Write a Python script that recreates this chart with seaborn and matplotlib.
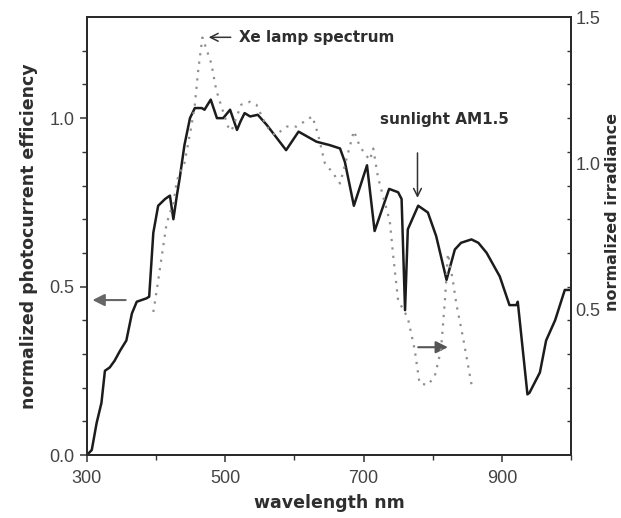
import numpy as np
import pandas as pd
import matplotlib
matplotlib.use("Agg")
import matplotlib.pyplot as plt
import seaborn as sns
from matplotlib.ticker import FixedLocator

# ---- data ----
sun_nm = [300, 307, 314, 321, 326, 333, 340, 348, 357, 365, 372, 386, 390, 396, 403,
          413, 420, 425, 430, 434, 441, 449, 456, 466, 470, 479, 488, 497, 507, 517,
          522, 528, 536, 547, 560, 588, 606, 632, 651, 666, 673, 686, 705, 716, 737,
          750, 755, 760, 764, 779, 793, 805, 820, 832, 841, 856, 866, 878, 897, 911,
          921, 923, 937, 940, 955, 964, 977, 991, 999]
sun_eff = [0.00, 0.015, 0.095, 0.155, 0.25, 0.26, 0.28, 0.31, 0.34, 0.42, 0.455, 0.465,
           0.47, 0.66, 0.74, 0.76, 0.77, 0.70, 0.77, 0.82, 0.92, 1.00, 1.03, 1.03, 1.025,
           1.055, 1.00, 1.00, 1.025, 0.965, 0.99, 1.015, 1.005, 1.01, 0.98, 0.905, 0.96,
           0.93, 0.92, 0.91, 0.87, 0.74, 0.86, 0.665, 0.79, 0.78, 0.76, 0.43, 0.67, 0.74,
           0.72, 0.65, 0.52, 0.61, 0.63, 0.64, 0.63, 0.60, 0.53, 0.445, 0.445, 0.455,
           0.18, 0.185, 0.245, 0.34, 0.40, 0.49, 0.49]

xe_nm = [396, 401, 405, 410, 415, 420, 425, 430, 441, 451, 456, 461, 467, 475, 480,
         487, 495, 504, 509, 523, 536, 545, 560, 572, 589, 603, 626, 634, 644, 656,
         666, 676, 686, 695, 709, 714, 721, 738, 743, 750, 764, 774, 781, 793, 803,
         812, 818, 822, 829, 834, 844, 857]
xe_irr = [0.49, 0.565, 0.63, 0.71, 0.79, 0.83, 0.86, 0.94, 1.00, 1.125, 1.20, 1.32,
          1.43, 1.375, 1.34, 1.25, 1.19, 1.125, 1.11, 1.20, 1.21, 1.20, 1.125, 1.095,
          1.125, 1.125, 1.16, 1.10, 1.00, 0.965, 0.93, 1.02, 1.11, 1.055, 1.01, 1.05,
          0.95, 0.80, 0.68, 0.53, 0.47, 0.36, 0.245, 0.24, 0.27, 0.36, 0.54, 0.69,
          0.60, 0.52, 0.40, 0.23]

x_ticks = [300, 500, 700, 900]
x_tick_labels = ["300", "500", "700", "900"]
left_ticks = [0.0, 0.5, 1.0]
left_tick_labels = ["0.0", "0.5", "1.0"]
right_ticks = [0.5, 1.0, 1.5]
right_tick_labels = ["0.5", "1.0", "1.5"]

sun_df = pd.DataFrame({"wavelength": sun_nm, "efficiency": sun_eff})
xe_df = pd.DataFrame({"wavelength": xe_nm, "irradiance": xe_irr})

sns.set_style("ticks")
plt.rcParams["font.family"] = ["Liberation Sans", "DejaVu Sans"]

fig = plt.figure(figsize=(6.21, 5.18), dpi=100)
ax = fig.add_axes([0.140, 0.1216, 0.7795, 0.8454])
ax2 = ax.twinx()

sns.lineplot(data=sun_df, x="wavelength", y="efficiency", ax=ax, sort=False,
             estimator=None, color="#1c1c1c", linewidth=1.8)
sns.lineplot(data=xe_df, x="wavelength", y="irradiance", ax=ax2, sort=False,
             estimator=None, color="#8f8f8f", linewidth=1.6, linestyle=(0, (1, 2.8)))

ax.set_xlim(300, 1000)
ax.set_ylim(0, 1.3)
ax2.set_ylim(0, 1.5)

tick_color = "#444444"
ax.set_xticks(x_ticks)
ax.set_xticklabels(x_tick_labels)
ax.xaxis.set_minor_locator(FixedLocator([400, 600, 800, 1000]))
ax.set_yticks(left_ticks)
ax.set_yticklabels(left_tick_labels)
ax.yaxis.set_minor_locator(FixedLocator(np.arange(0.1, 1.3, 0.1)))
ax.tick_params(axis="both", which="major", direction="out", length=5, width=1.1,
               labelsize=13, colors="#333333", labelcolor=tick_color, pad=4)
ax.tick_params(axis="both", which="minor", direction="out", length=3.5, width=1.0,
               colors="#333333")
ax.tick_params(axis="x", which="major", pad=6)

ax2.set_yticks(right_ticks)
ax2.set_yticklabels(right_tick_labels)
ax2.yaxis.set_minor_locator(FixedLocator([k * 1.5 / 13 for k in range(1, 13)]))
ax2.tick_params(axis="y", which="major", length=0, labelsize=13,
                labelcolor=tick_color, pad=3)
ax2.tick_params(axis="y", which="minor", direction="in", length=3, width=1.0,
                colors="#333333")

for a in (ax, ax2):
    for s in a.spines.values():
        s.set_visible(True)
        s.set_linewidth(1.3)
        s.set_color("#2a2a2a")

lab_font = dict(family=["DejaVu Sans"], fontweight="bold", fontsize=12.5, color="#2e2e2e")
ax.set_xlabel("wavelength nm", labelpad=5, **lab_font)
ax.set_ylabel("normalized photocurrent efficiency", labelpad=8, **lab_font)
right_font = dict(lab_font, fontsize=11.5)
ax2.set_ylabel("normalized irradiance", rotation=90, va="center", ha="center", **right_font)
ax2.yaxis.set_label_coords(1.086, 0.555)

ann_font = dict(family=["DejaVu Sans"], fontweight="bold", fontsize=11, color="#2e2e2e")
ax.annotate("", xy=(472, 1.24), xytext=(512, 1.24),
            arrowprops=dict(arrowstyle="->", color="#333333", lw=1.1, mutation_scale=14))
ax.text(520, 1.24, "Xe lamp spectrum", ha="left", va="center", **ann_font)
ax.annotate("", xy=(778, 0.755), xytext=(778, 0.905),
            arrowprops=dict(arrowstyle="->", color="#333333", lw=1.1, mutation_scale=14))
ax.text(817, 0.995, "sunlight AM1.5", ha="center", va="center", **ann_font)
ax.annotate("", xy=(304, 0.46), xytext=(360, 0.46),
            arrowprops=dict(arrowstyle="-|>", color="#666666", lw=1.5, mutation_scale=18))
ax.annotate("", xy=(826, 0.32), xytext=(775, 0.32),
            arrowprops=dict(arrowstyle="-|>", color="#555555", lw=1.5, mutation_scale=18))

fig.savefig("out.png", dpi=100)
